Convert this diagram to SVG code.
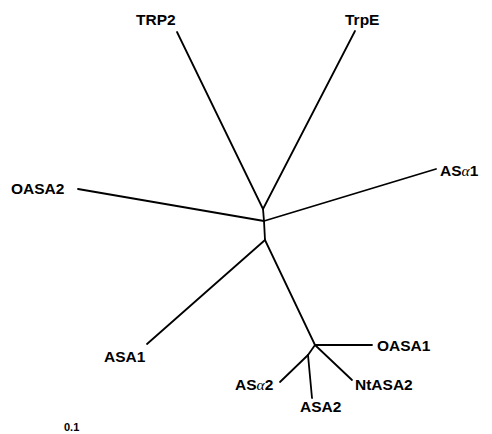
<svg xmlns="http://www.w3.org/2000/svg" width="492" height="434" viewBox="0 0 492 434">
<style>
.lbl{font-family:"Liberation Sans",Arial,Helvetica,sans-serif;font-weight:bold;font-size:15.5px;fill:#000}
.sm{font-size:11px}
.gr{font-family:"Liberation Serif","Times New Roman",serif;font-weight:normal;font-style:italic}
.br{stroke:#000;stroke-width:1.8;fill:none;stroke-linecap:round;stroke-linejoin:round}
</style>
<rect width="492" height="434" fill="#fff"/>
<g id="connectors" class="br">
<polyline points="177,32 263,209 355,31"/>
<polyline points="263,209 264,221 265,240"/>
<line x1="78" y1="189" x2="264" y2="221"/>
<line x1="264" y1="221" x2="436" y2="169"/>
<line x1="265" y1="240" x2="147" y2="344"/>
<line x1="265" y1="240" x2="315" y2="345"/>
<line x1="315" y1="345" x2="372" y2="345"/>
<line x1="315" y1="345" x2="352" y2="380"/>
<line x1="315" y1="345" x2="308" y2="355"/>
<line x1="308" y1="355" x2="280" y2="382"/>
<line x1="308" y1="355" x2="312" y2="398"/>
</g>
<g id="TRP2"><text class="lbl" x="136" y="25">TRP2</text></g>
<g id="TrpE"><text class="lbl" x="345" y="25">TrpE</text></g>
<g id="OASA2"><text class="lbl" x="11" y="194">OASA2</text></g>
<g id="ASa1"><text class="lbl" x="440" y="176">AS<tspan class="gr">α</tspan>1</text></g>
<g id="ASA1"><text class="lbl" x="104" y="362">ASA1</text></g>
<g id="OASA1"><text class="lbl" x="377" y="351">OASA1</text></g>
<g id="ASa2"><text class="lbl" x="235" y="390">AS<tspan class="gr">α</tspan>2</text></g>
<g id="ASA2"><text class="lbl" x="300" y="412">ASA2</text></g>
<g id="NtASA2"><text class="lbl" x="355" y="390">NtASA2</text></g>
<g id="scale"><text class="lbl sm" x="64" y="431">0.1</text></g>
</svg>
